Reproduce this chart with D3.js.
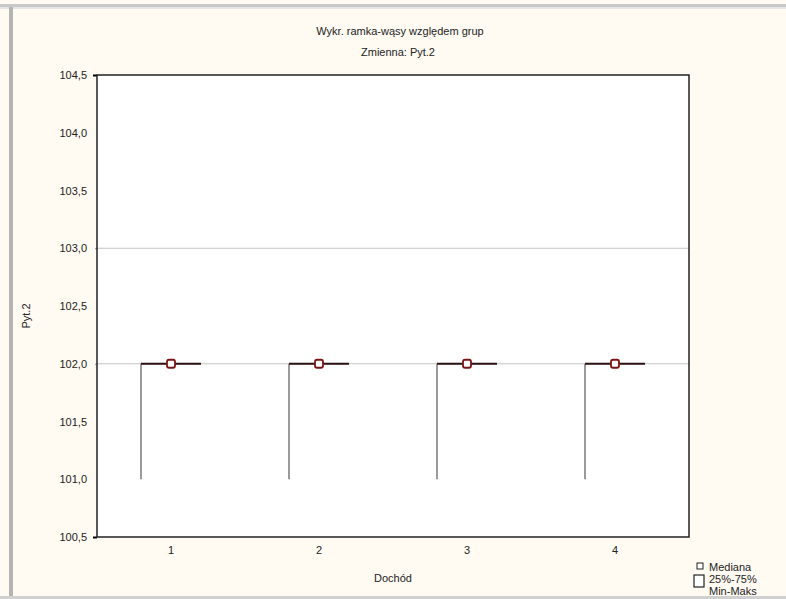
<!DOCTYPE html>
<html><head><meta charset="utf-8">
<script src="https://cdn.jsdelivr.net/npm/d3@7"></script>
<style>body{margin:0;background:#fffbf3;}svg{display:block;font-family:Arial,"Liberation Sans",sans-serif;}</style>
</head><body>
<svg id="c" width="786" height="599"></svg>
<script>
const categories = ["1","2","3","4"];
const minVals = [101, 101, 101, 101];
const q1Vals = [102, 102, 102, 102];
const medianVals = [102, 102, 102, 102];
const q3Vals = [102, 102, 102, 102];
const maxVals = [102, 102, 102, 102];
const yTicks = [104.5, 104.0, 103.5, 103.0, 102.5, 102.0, 101.5, 101.0, 100.5];
const gridVals = [103.0, 102.0];
const legendItems = ["Mediana", "25%-75%", "Min-Maks"];

const svg = d3.select("#c");
const W = 786, H = 599;
svg.append("rect").attr("width", W).attr("height", H).attr("fill", "#fffbf3");
// window frame
svg.append("rect").attr("x", 0).attr("y", 4).attr("width", W).attr("height", 3).attr("fill", "#c8c8c8");
svg.append("rect").attr("x", 0).attr("y", 7).attr("width", W).attr("height", 2).attr("fill", "#e4e4e4");
svg.append("rect").attr("x", 9).attr("y", 7).attr("width", 4).attr("height", H).attr("fill", "#b4b4b4");
svg.append("rect").attr("x", 0).attr("y", 596).attr("width", W).attr("height", 3).attr("fill", "#d0d0d0");

const L = 97, R = 689, T = 75, B = 537;
const x = d3.scaleBand().domain(categories).range([L, R]).padding(0);
const y = d3.scaleLinear().domain([100.5, 104.5]).range([B, T]);
const fmt = v => d3.format(".1f")(v).replace(".", ",");

svg.append("rect").attr("x", L).attr("y", T).attr("width", R - L).attr("height", B - T)
  .attr("fill", "#ffffff");

// gridlines
svg.selectAll(".grid").data(gridVals).enter().append("line")
  .attr("x1", L).attr("x2", R).attr("y1", d => y(d)).attr("y2", d => y(d))
  .attr("stroke", "#c4c4c4").attr("stroke-width", 1);

// y axis labels
const yAxis = d3.axisLeft(y).tickValues(yTicks).tickFormat(fmt).tickSize(4).tickPadding(6);
const ya = svg.append("g").attr("transform", `translate(${L},0)`).call(yAxis);
ya.select(".domain").remove();
ya.selectAll(".tick line").attr("stroke", d => (d === 104.5 || d === 100.5) ? "#000" : "#888")
  .attr("stroke-width", d => (d === 104.5 || d === 100.5) ? 2 : 1)
  .attr("stroke-dasharray", d => (d === 103 || d === 102) ? "2,2" : null)
  .attr("opacity", d => (d === 104.5 || d === 100.5 || d === 103 || d === 102) ? 1 : 0);
ya.selectAll("text").attr("font-size", 11).attr("fill", "#222");

// x axis labels
const xAxis = d3.axisBottom(x).tickSize(0).tickPadding(9);
const xa = svg.append("g").attr("transform", `translate(0,${B})`).call(xAxis);
xa.select(".domain").remove();
xa.selectAll("text").attr("font-size", 11).attr("fill", "#222");

// frame of plot
svg.append("rect").attr("x", L).attr("y", T).attr("width", R - L).attr("height", B - T)
  .attr("fill", "none").attr("stroke", "#222").attr("stroke-width", 1.5);

// boxes
const bw = 60;
categories.forEach((c, i) => {
  const cx = x(c) + x.bandwidth() / 2;
  const left = cx - bw / 2;
  // min-max whisker at box left edge
  svg.append("line").attr("x1", left).attr("x2", left)
    .attr("y1", y(minVals[i])).attr("y2", y(maxVals[i]))
    .attr("stroke", "#9a9a9a").attr("stroke-width", 2);
  // 25-75 box
  svg.append("rect").attr("x", left).attr("y", y(q3Vals[i]))
    .attr("width", bw).attr("height", Math.max(0, y(q1Vals[i]) - y(q3Vals[i])))
    .attr("fill", "none").attr("stroke", "#1a1a1a").attr("stroke-width", 2);
  svg.append("line").attr("x1", left).attr("x2", left + bw)
    .attr("y1", y(q3Vals[i])).attr("y2", y(q3Vals[i]))
    .attr("stroke", "#2a1010").attr("stroke-width", 2.2);
  // median marker
  svg.append("rect").attr("x", cx - 4).attr("y", y(medianVals[i]) - 4)
    .attr("width", 8).attr("height", 8).attr("rx", 2)
    .attr("fill", "#ffffff").attr("stroke", "#7a1515").attr("stroke-width", 1.8);
});

// titles
svg.append("text").attr("x", 400).attr("y", 35).attr("text-anchor", "middle")
  .attr("font-size", 11).attr("fill", "#222").text("Wykr. ramka-wąsy względem grup");
svg.append("text").attr("x", 398).attr("y", 56).attr("text-anchor", "middle")
  .attr("font-size", 11).attr("fill", "#222").text("Zmienna: Pyt.2");
svg.append("text").attr("x", 393).attr("y", 582).attr("text-anchor", "middle")
  .attr("font-size", 11).attr("fill", "#222").text("Dochód");
svg.append("text").attr("transform", "translate(30,316) rotate(-90)").attr("text-anchor", "middle")
  .attr("font-size", 11).attr("fill", "#222").text("Pyt.2");

// legend
const lg = svg.append("g");
lg.append("rect").attr("x", 697).attr("y", 563).attr("width", 6).attr("height", 6)
  .attr("fill", "#fff").attr("stroke", "#222").attr("stroke-width", 1);
lg.append("rect").attr("x", 694).attr("y", 575).attr("width", 10).attr("height", 12)
  .attr("fill", "#fff").attr("stroke", "#222").attr("stroke-width", 1.2);
legendItems.forEach((t, i) => {
  lg.append("text").attr("x", 709).attr("y", 571 + i * 12).attr("font-size", 11)
    .attr("fill", "#222").text(t);
});
</script>
</body></html>
